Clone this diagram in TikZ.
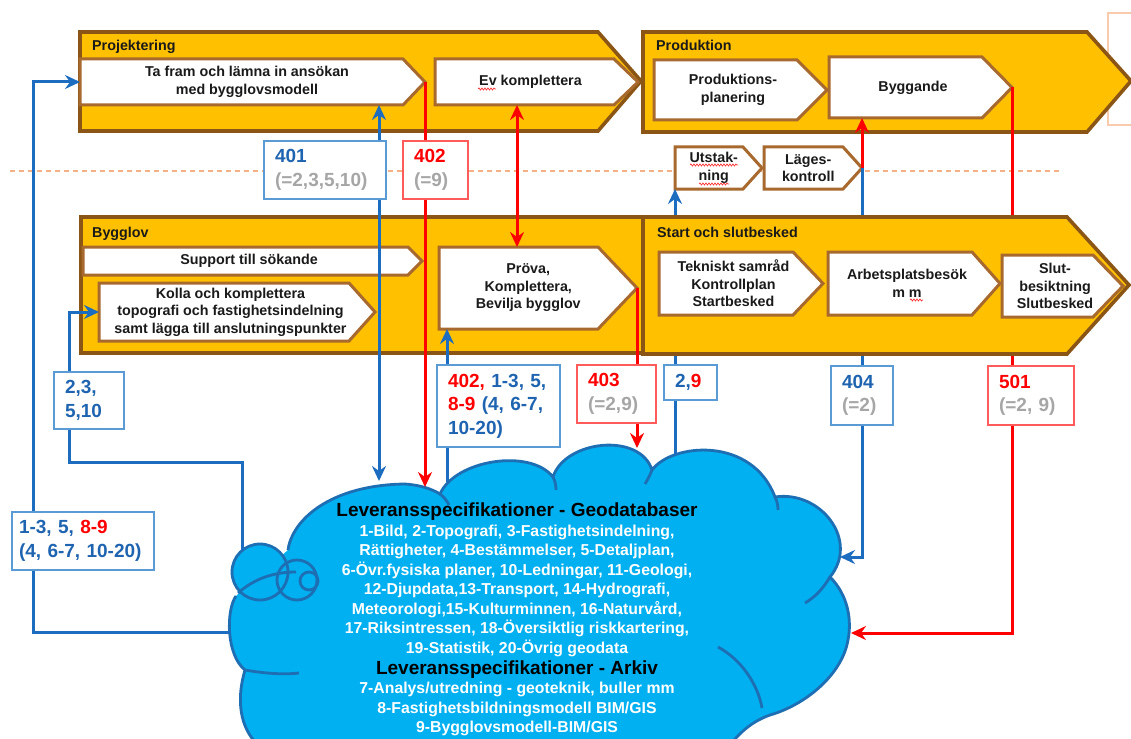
\documentclass[tikz,border=0pt]{standalone}
\usepackage{fontspec}
\setmainfont{Liberation Sans}
\usetikzlibrary{arrows.meta,decorations.pathmorphing}
\definecolor{gold}{HTML}{FFC000}
\definecolor{bandline}{HTML}{8A5515}
\definecolor{boxline}{HTML}{A8692E}
\definecolor{bl}{HTML}{1C6DC0}
\definecolor{blt}{HTML}{1F64B0}
\definecolor{blbox}{HTML}{5B9BD5}
\definecolor{rd}{HTML}{FF0000}
\definecolor{rdbox}{HTML}{FF5B5B}
\definecolor{gr}{HTML}{A6A6A6}
\definecolor{cloudfill}{HTML}{00B0F0}
\definecolor{cloudline}{HTML}{1E6EB4}
\definecolor{dashc}{HTML}{F4B183}
\definecolor{cornerc}{HTML}{F8CBAD}
\definecolor{boxtxt}{HTML}{1A1A1A}
\tikzset{
  >={Stealth[length=15pt,width=14pt,inset=5pt]},
  band/.style={fill=gold, draw=bandline, line width=3.6pt},
  stepbox/.style={fill=white, draw=boxline, line width=3pt},
  boxtext/.style={font=\fontsize{14.3}{17.5}\selectfont\bfseries, align=center, text=boxtxt, inner sep=0pt},
  bandlabel/.style={font=\fontsize{14.3}{17.5}\selectfont\bfseries, text=boxtxt, inner sep=0pt, anchor=base west},
  bline/.style={draw=bl, line width=3pt},
  rline/.style={draw=rd, line width=3pt},
  lbox/.style={draw, fill=white, line width=1.7pt, font=\fontsize{19}{23.5}\selectfont\bfseries, align=left, inner xsep=11pt, inner ysep=0pt},
  lblue/.style={lbox, draw=blbox, text=blt},
  lred/.style={lbox, draw=rdbox, text=rd},
  ctitle/.style={font=\fontsize{19}{22}\selectfont\bfseries, text=black, anchor=base, inner sep=0pt},
  cwhite/.style={font=\fontsize{15.8}{19}\selectfont\bfseries, text=white, anchor=base, inner sep=0pt},
  cloudshape/.style={draw=cloudline, line width=2.8pt},
  dashline/.style={draw=dashc, line width=1.4pt, dash pattern=on 5pt off 4pt},
  squiggle/.style={draw=rd!80, line width=0.7pt, decorate, decoration={snake, amplitude=1pt, segment length=3pt}}
}
% name, x1, y1, x2, y2, tip x, text
\newcommand{\chevbox}[7]{%
  \draw[stepbox] (#2,#3) -- (#4,#3) -- (#6,{(#3+#5)/2}) -- (#4,#5) -- (#2,#5) -- cycle;
  \coordinate (#1-tip) at (#6,{(#3+#5)/2});
  \coordinate (#1-nw) at (#2,#3);
  \coordinate (#1-se) at (#4,#5);
  \coordinate (#1-w) at (#2,{(#3+#5)/2});
  \node[boxtext] (#1) at ({(#2+(#4+#6)/2)/2},{(#3+#5)/2}) {#7};
}
\def\cloudA{ .. controls (292,520) and (330,485) .. (405,484)
  .. controls (420,485) and (432,489) .. (440,494)
  .. controls (455,460) and (530,448) .. (553,477)
  .. controls (565,440) and (640,432) .. (652,470)
  .. controls (672,443) and (752,436) .. (775,497)
  .. controls (820,490) and (860,540) .. (830,577)
  .. controls (848,595) and (852,620) .. (848,640)
  .. controls (842,675) and (805,705) .. (770,715)
  .. controls (750,722) and (738,735) .. (730,745)}
\def\cloudB{ .. controls (240,728) and (236,700) .. (245,670)
  .. controls (226,655) and (226,610) .. (236,596)}
\begin{document}
\begin{tikzpicture}[x=1pt,y=-1pt]
\useasboundingbox (0,0) rectangle (1131,738);
\clip (0,0) rectangle (1131,738);
\fill[white] (0,0) rectangle (1131,738);

% corner shape top right
\draw[draw=cornerc, line width=1.4pt] (1108,13) rectangle (1150,125);

% dashed separator
\coordinate (dL) at (10,171);
\coordinate (dR) at (1062,171);
\draw[dashline] (dL) -- (dR);

% bands
\draw[band] (80,32) -- (598,32) -- (641,81) -- (598,131) -- (80,131) -- cycle;
\draw[band] (643,32) -- (1087,32) -- (1131,81) -- (1087,132) -- (643,132) -- cycle;
\draw[band] (81,217) rectangle (643,353);
\node[bandlabel] (lproj) at (92,51) {Projektering};
\node[bandlabel] (lprod) at (656,51) {Produktion};
\node[bandlabel] (lbygg) at (92,237) {Bygglov};

% boxes
\chevbox{tafram}{80}{59}{403}{105}{425}{Ta fram och lämna in ansökan\\med bygglovsmodell}
\chevbox{evkomp}{435}{59}{614}{105}{638}{Ev komplettera}
\chevbox{prodplan}{654}{60}{797}{120}{827}{Produktions-\\planering}
\chevbox{byggande}{829}{57}{982}{118}{1012}{Byggande}
\chevbox{utstak}{675}{147}{743}{189}{762}{Utstak-\\ning}
\chevbox{lages}{764}{147}{843}{189}{862}{Läges-\\kontroll}
\chevbox{support}{83}{247}{408}{275}{422}{Support till sökande}
\chevbox{kolla}{99}{283}{349}{341}{375}{Kolla och komplettera\\topografi och fastighetsindelning\\samt lägga till anslutningspunkter}
\chevbox{prova}{439}{247}{598}{329}{637}{Pröva,\\Komplettera,\\Bevilja bygglov}

% spell-check squiggles
\draw[squiggle] (478,89) -- (496,89);
\draw[squiggle] (690,165) -- (738,165);
\draw[squiggle] (699,184) -- (729,184);

% cloud
\fill[cloudfill] (260,572) circle[radius=28pt];
\fill[cloudfill] (288,550) \cloudA -- (258,745) \cloudB -- cycle;
\draw[cloudshape] (260,572) circle[radius=28pt];
\draw[cloudshape] (288,550) \cloudA;
\draw[cloudshape] (258,745) \cloudB;
\draw[cloudshape] (297,580) circle[radius=20pt];
\draw[cloudshape] (309,581) circle[radius=9pt];
\draw[cloudshape] (238,593) .. controls (255,578) and (275,572) .. (296,572);
\draw[cloudshape] (245,670) .. controls (262,673) and (282,675) .. (299,673);
\draw[cloudshape] (440,494) .. controls (444,497) and (447,501) .. (449,505);
\draw[cloudshape] (553,477) .. controls (555,481) and (556,485) .. (556,490);
\draw[cloudshape] (652,470) .. controls (650,475) and (648,479) .. (645,484);
\draw[cloudshape] (775,497) .. controls (777,501) and (778,505) .. (778,510);
\draw[cloudshape] (830,577) .. controls (822,590) and (815,597) .. (805,603);
\draw[cloudshape] (718,647) .. controls (742,660) and (758,685) .. (762,708);

\node[ctitle] (ct1) at (517,516.5) {Leveransspecifikationer - Geodatabaser};
\node[cwhite] (cw1) at (517,536) {1-Bild, 2-Topografi, 3-Fastighetsindelning,};
\node[cwhite] (cw2) at (517,555.5) {Rättigheter, 4-Bestämmelser, 5-Detaljplan,};
\node[cwhite] (cw3) at (517,575) {6-Övr.fysiska planer, 10-Ledningar, 11-Geologi,};
\node[cwhite] (cw4) at (517,594.5) {12-Djupdata,13-Transport, 14-Hydrografi,};
\node[cwhite] (cw5) at (517,614) {Meteorologi,15-Kulturminnen, 16-Naturvård,};
\node[cwhite] (cw6) at (517,633.5) {17-Riksintressen, 18-Översiktlig riskkartering,};
\node[cwhite] (cw7) at (517,653) {19-Statistik, 20-Övrig geodata};
\node[ctitle] (ct2) at (517,674.5) {Leveransspecifikationer - Arkiv};
\node[cwhite] (cw8) at (517,693.5) {7-Analys/utredning - geoteknik, buller mm};
\node[cwhite] (cw9) at (517,713) {8-Fastighetsbildningsmodell BIM/GIS};
\node[cwhite] (cw10) at (517,732.5) {9-Bygglovsmodell-BIM/GIS};

% cloud attach points
\coordinate (cA) at (379,481);
\coordinate (cB) at (425,487);
\coordinate (cC) at (447,482);
\coordinate (cD) at (637,448);
\coordinate (cE) at (675,455);
\coordinate (cF) at (840,557);
\coordinate (cG) at (851,633);
\coordinate (cH) at (242,551);
\coordinate (cI) at (231,632);
\coordinate (k1) at (69,462);
\coordinate (k2) at (33,632);
\coordinate (mR) at (517,0);

% connectors
\draw[bline,->] (cI) -- (k2) |- (tafram-w);
\draw[bline,->] (cH) |- (k1) |- (kolla-w);
\draw[bline,<->] (cA |- tafram-se) -- (cA);
\draw[rline,->] (tafram-tip) -- (cB);
\draw[rline,<->] (mR |- evkomp-se) -- (mR |- prova-nw);
\draw[bline,->] (cC) -- (cC |- prova-se);
\draw[rline,->] (prova-tip) -- (cD);
\draw[bline,->] (cE) -- (cE |- utstak-se);
\draw[rline,->] (lages-tip) -- (lages-tip |- byggande-se);
\draw[bline,->] (lages-tip) |- (cF);
\draw[rline,->] (byggande-tip) |- (cG);

% Start och slutbesked band (on top of lines)
\draw[band] (643,217) -- (1067,217) -- (1129,285) -- (1067,354) -- (643,354) -- cycle;
\node[bandlabel] (lstart) at (657,237) {Start och slutbesked};
\chevbox{teknisk}{659}{252}{793}{315}{823}{Tekniskt samråd\\Kontrollplan\\Startbesked}
\chevbox{arbets}{828}{252}{972}{315}{1000}{Arbetsplatsbesök\\m m}
\chevbox{slut}{1002}{255}{1093}{317}{1123}{Slut-\\besiktning\\Slutbesked}
\draw[squiggle] (910,300) -- (923,300);

% label boxes
\node[lblue, minimum width=122pt, minimum height=58pt, text width=100pt] (l401) at (325,170) {401\\{\color{gr}(=2,3,5,10)}};
\node[lred, minimum width=65pt, minimum height=58pt, text width=43pt] (l402a) at (435.5,170) {402\\{\color{gr}(=9)}};
\node[lblue, minimum width=70pt, minimum height=57pt, text width=48pt] (l23510) at (89,400.5) {2,3,\\5,10};
\node[lblue, minimum width=123pt, minimum height=82pt, text width=101pt] (l402b) at (498.5,406) {{\color{rd}402,} 1-3, 5,\\{\color{rd}8-9} (4, 6-7,\\10-20)};
\node[lred, minimum width=79pt, minimum height=58pt, text width=57pt] (l403) at (616.5,394) {403\\{\color{gr}(=2,9)}};
\node[lblue, minimum width=53pt, minimum height=35pt, text width=31pt] (l29) at (690.5,382.5) {2,{\color{rd}9}};
\node[lblue, minimum width=62pt, minimum height=59pt, text width=40pt] (l404) at (862,395.5) {404\\{\color{gr}(=2)}};
\node[lred, minimum width=86pt, minimum height=59pt, text width=64pt] (l501) at (1031,395.5) {501\\{\color{gr}(=2, 9)}};
\node[lblue, inner xsep=7pt, minimum width=142pt, minimum height=58pt, text width=128pt] (l120) at (83,541) {1-3, 5, {\color{rd}8-9}\\(4, 6-7, 10-20)};
\end{tikzpicture}
\end{document}
